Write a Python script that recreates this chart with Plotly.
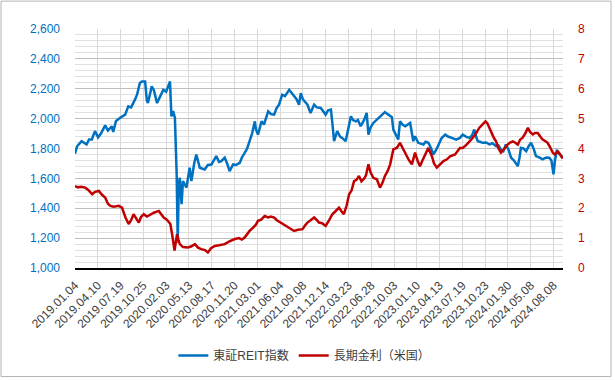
import plotly.graph_objects as go

# ---- category tick labels (trading-day axis, one label every 65 trading days) ----
tick_labels = ["2019.01.04", "2019.04.10", "2019.07.19", "2019.10.25", "2020.02.03",
               "2020.05.13", "2020.08.17", "2020.11.20", "2021.03.01", "2021.06.04",
               "2021.09.08", "2021.12.14", "2022.03.23", "2022.06.28", "2022.10.03",
               "2023.01.10", "2023.04.13", "2023.07.19", "2023.10.23", "2024.01.30",
               "2024.05.08", "2024.08.08"]
days_per_label = 65
last_day = 1392

# ---- 東証REIT指数 (left axis) : trading-day index, value ----
reit_day = [0, 6, 19, 26, 33, 40, 48, 57, 66, 74, 86, 94, 105, 109, 117, 128, 143, 152, 160,
            171, 177, 185, 191, 200, 205, 208, 219, 225, 234, 243, 252, 260, 266, 271, 275,
            280, 285, 290, 293, 296, 299, 304, 308, 318, 327, 332, 340, 346, 356, 370, 379,
            389, 403, 411, 417, 427, 434, 441, 451, 459, 470, 476, 484, 491, 498, 505, 513,
            516, 522, 532, 539, 551, 559, 568, 575, 582, 591, 599, 611, 618, 625, 632, 639,
            644, 650, 656, 663, 672, 682, 690, 701, 708, 715, 722, 730, 735, 739, 743, 748,
            756, 762, 772, 779, 787, 793, 801, 807, 815, 825, 832, 837, 843, 851, 860, 870,
            884, 892, 899, 904, 908, 918, 922, 927, 934, 942, 949, 956, 965, 970, 979, 986,
            994, 1000, 1008, 1016, 1022, 1030, 1037, 1046, 1056, 1064, 1075, 1087, 1098,
            1106, 1115, 1125, 1133, 1139, 1144, 1149, 1155, 1163, 1173, 1182, 1191, 1201,
            1208, 1215, 1222, 1229, 1237, 1244, 1252, 1263, 1268, 1272, 1279, 1287, 1294,
            1301, 1308, 1315, 1324, 1334, 1344, 1353, 1359, 1365, 1369, 1374, 1380, 1387,
            1392]
reit_value = [1765, 1815, 1849, 1835, 1827, 1860, 1860, 1916, 1875, 1900, 1955, 1920, 1949,
              1910, 1985, 2004, 2027, 2082, 2075, 2127, 2160, 2238, 2249, 2249, 2120, 2104,
              2216, 2190, 2104, 2149, 2193, 2180, 2220, 2249, 2015, 2050, 2004, 1627, 1170,
              1560, 1604, 1427, 1582, 1538, 1671, 1582, 1700, 1760, 1671, 1660, 1690, 1693,
              1749, 1710, 1715, 1738, 1700, 1649, 1693, 1690, 1704, 1740, 1771, 1800, 1849,
              1900, 1982, 1930, 1893, 1982, 1960, 2049, 2030, 2027, 2070, 2093, 2160, 2150,
              2193, 2170, 2149, 2130, 2093, 2171, 2130, 2110, 2093, 2038, 2093, 2075, 2071,
              2050, 2027, 2055, 2060, 1950, 1849, 1880, 1916, 1880, 1871, 1849, 1930, 2015,
              1990, 1982, 1990, 1949, 1993, 2038, 1893, 1940, 1971, 1990, 2015, 2044, 2030,
              2015, 2010, 1927, 1871, 1860, 1982, 1960, 1949, 1960, 1971, 1849, 1882, 1838,
              1835, 1827, 1845, 1838, 1800, 1760, 1790, 1827, 1870, 1893, 1880, 1871, 1860,
              1871, 1893, 1880, 1871, 1890, 1927, 1880, 1849, 1845, 1838, 1840, 1827, 1835,
              1816, 1820, 1793, 1782, 1827, 1790, 1738, 1720, 1682, 1740, 1804, 1800, 1782,
              1815, 1838, 1800, 1749, 1740, 1727, 1740, 1738, 1720, 1627, 1720, 1782, 1770,
              1749, 1745]

# ---- 長期金利（米国） (right axis, %) : trading-day index, value ----
yield_day = [0, 9, 17, 29, 37, 49, 57, 68, 77, 86, 94, 101, 111, 125, 134, 144, 153, 160,
             167, 174, 182, 188, 196, 205, 215, 225, 239, 245, 253, 262, 272, 277, 280, 284,
             288, 291, 295, 299, 308, 322, 331, 342, 351, 360, 371, 379, 388, 399, 411, 427,
             439, 456, 468, 476, 484, 491, 498, 508, 516, 522, 531, 541, 551, 559, 568, 576,
             587, 596, 605, 614, 625, 636, 649, 656, 663, 672, 682, 690, 696, 705, 715, 725,
             734, 743, 753, 760, 767, 775, 782, 789, 796, 803, 810, 817, 825, 830, 837, 843,
             851, 861, 870, 877, 884, 892, 899, 908, 918, 927, 936, 946, 953, 961, 970, 977,
             984, 991, 999, 1008, 1018, 1024, 1032, 1041, 1051, 1060, 1070, 1084, 1098, 1106,
             1117, 1130, 1141, 1153, 1161, 1171, 1176, 1182, 1189, 1195, 1201, 1208, 1215,
             1224, 1234, 1241, 1249, 1255, 1263, 1270, 1277, 1284, 1292, 1298, 1306, 1312,
             1320, 1327, 1334, 1341, 1348, 1355, 1363, 1369, 1377, 1384, 1391]
yield_value = [2.74, 2.70, 2.72, 2.69, 2.62, 2.47, 2.55, 2.58, 2.45, 2.36, 2.15, 2.08, 2.05,
               2.08, 2.02, 1.69, 1.47, 1.60, 1.80, 1.65, 1.52, 1.70, 1.80, 1.72, 1.80, 1.85,
               1.91, 1.82, 1.69, 1.62, 1.47, 1.13, 0.90, 0.58, 0.90, 1.13, 0.95, 0.80, 0.70,
               0.69, 0.72, 0.80, 0.68, 0.63, 0.60, 0.52, 0.66, 0.74, 0.76, 0.80, 0.88, 0.97,
               1.00, 0.95, 1.02, 1.14, 1.24, 1.35, 1.45, 1.58, 1.62, 1.74, 1.69, 1.72, 1.69,
               1.60, 1.52, 1.45, 1.36, 1.30, 1.24, 1.28, 1.30, 1.42, 1.52, 1.60, 1.69, 1.60,
               1.52, 1.50, 1.41, 1.60, 1.80, 1.90, 2.02, 1.90, 1.80, 2.10, 2.47, 2.60, 2.91,
               2.95, 3.08, 2.90, 3.00, 3.10, 3.47, 3.20, 3.02, 2.97, 2.69, 2.85, 3.08, 3.25,
               3.47, 3.97, 4.02, 4.19, 3.97, 3.74, 3.60, 3.47, 3.86, 3.60, 3.41, 3.60, 3.80,
               4.02, 3.74, 3.50, 3.36, 3.45, 3.58, 3.63, 3.74, 3.80, 4.02, 4.02, 4.13, 4.30,
               4.45, 4.69, 4.80, 4.91, 4.85, 4.69, 4.47, 4.35, 4.24, 4.00, 3.86, 4.00, 4.13,
               4.20, 4.24, 4.20, 4.13, 4.30, 4.36, 4.50, 4.69, 4.55, 4.47, 4.52, 4.52, 4.40,
               4.30, 4.25, 4.19, 4.05, 3.86, 3.80, 3.91, 3.80, 3.66]

tick_days = [i * days_per_label for i in range(len(tick_labels))]

BLUE = "#0070C0"
RED = "#C00000"
FONT = "Liberation Sans, Arial, Noto Sans CJK JP, sans-serif"

fig = go.Figure()
fig.add_trace(go.Scatter(x=reit_day, y=reit_value, name="東証REIT指数", mode="lines",
                         line=dict(color=BLUE, width=2.5), yaxis="y"))
fig.add_trace(go.Scatter(x=yield_day, y=yield_value, name="長期金利（米国）", mode="lines",
                         line=dict(color=RED, width=2.5), yaxis="y2"))

fig.update_layout(
    width=615, height=380,
    margin=dict(l=75, r=52, t=29, b=111),
    paper_bgcolor="white", plot_bgcolor="white",
    font=dict(family=FONT, size=12, color="#404040"),
    showlegend=True,
    legend=dict(orientation="h", x=0.47, xanchor="center", y=-0.36, yanchor="middle",
                font=dict(size=12, color="#404040"), itemwidth=30, tracegroupgap=0),
    xaxis=dict(range=[0, last_day], tickvals=tick_days, ticktext=tick_labels,
               tickangle=-45, showgrid=True, gridcolor="#d9d9d9", gridwidth=1,
               showline=True, linecolor="black", linewidth=1.5, zeroline=False,
               ticks="", ticklabelstandoff=4, tickfont=dict(size=12, color="#404040")),
    yaxis=dict(range=[1000, 2600], dtick=200, tickformat=",d", showgrid=True,
               gridcolor="#bfbfbf", gridwidth=1, zeroline=False, showline=False,
               ticks="", ticklabelstandoff=14, tickfont=dict(size=12, color=BLUE),
               minor=dict(dtick=40, showgrid=True, gridcolor="#e0e0e0", gridwidth=1)),
    yaxis2=dict(range=[0, 8], dtick=1, overlaying="y", side="right", showgrid=False,
                zeroline=False, showline=False, ticks="", ticklabelstandoff=14,
                tickfont=dict(size=12, color=RED)),
    shapes=[dict(type="rect", xref="paper", yref="paper",
                 x0=-74 / 488, x1=536 / 488, y0=-109 / 240, y1=268 / 240,
                 line=dict(color="#b4b4b4", width=1), fillcolor="rgba(0,0,0,0)",
                 layer="below")],
)

fig.write_html("out.html")
